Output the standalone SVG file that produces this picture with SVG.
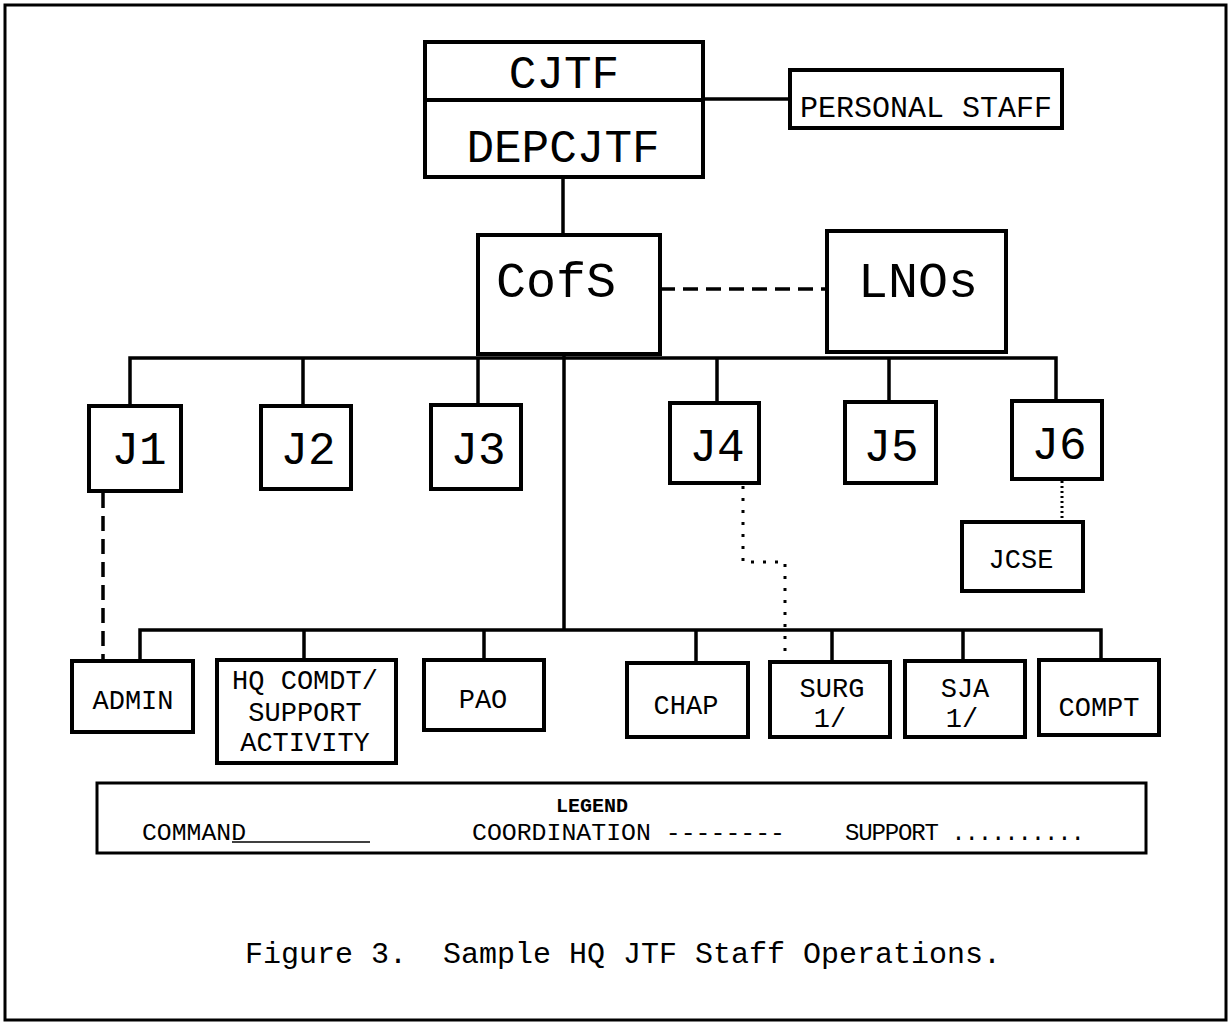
<svg xmlns="http://www.w3.org/2000/svg" width="1230" height="1024" viewBox="0 0 1230 1024">
<style>
.box{fill:#fff;stroke:#000;stroke-width:4}
.t{font-family:"Liberation Mono","DejaVu Sans Mono",monospace;fill:#000;text-anchor:middle}
.big{font-size:46px}
.mid{font-size:30px}
.sm{font-size:27px}
.leg{font-size:24px;text-anchor:start}
.c{fill:none;stroke:#000;stroke-width:3.5}
.dash{stroke-dasharray:15 8}
.dot{stroke-dasharray:3 9;stroke-width:3}
.dot2{stroke-dasharray:2 3;stroke-width:3}
</style>
<rect x="5" y="5" width="1221" height="1015" fill="#fff" stroke="#000" stroke-width="3"/>
<g id="connectors">
<line class="c" x1="703" y1="99" x2="790" y2="99"/>
<line class="c" x1="563" y1="177" x2="563" y2="235"/>
<line class="c dash" x1="660" y1="289" x2="827" y2="289"/>
<line class="c" x1="564" y1="354" x2="564" y2="630"/>
<polyline class="c" points="130,406 130,358 1056,358 1056,401"/>
<line class="c" x1="303" y1="358" x2="303" y2="406"/>
<line class="c" x1="478" y1="358" x2="478" y2="405"/>
<line class="c" x1="717" y1="358" x2="717" y2="403"/>
<line class="c" x1="889" y1="358" x2="889" y2="402"/>
<polyline class="c" points="140,661 140,630 1101,630 1101,660"/>
<line class="c" x1="304" y1="630" x2="304" y2="660"/>
<line class="c" x1="484" y1="630" x2="484" y2="660"/>
<line class="c" x1="696" y1="630" x2="696" y2="663"/>
<line class="c" x1="832" y1="630" x2="832" y2="662"/>
<line class="c" x1="963" y1="630" x2="963" y2="661"/>
<line class="c dash" x1="103" y1="493" x2="103" y2="661"/>
<polyline class="c dot" points="743,486 743,562 785,562 785,662"/>
<line class="c dot2" x1="1062" y1="481" x2="1062" y2="522"/>
</g>
<g id="cjtf"><rect class="box" x="425" y="42" width="278" height="58"/><text class="t big" x="564" y="88">CJTF</text></g>
<g id="depcjtf"><rect class="box" x="425" y="100" width="278" height="77"/><text class="t big" x="563" y="162">DEPCJTF</text></g>
<g id="personal-staff"><rect class="box" x="790" y="70" width="272" height="58"/><text class="t mid" x="926" y="117">PERSONAL STAFF</text></g>
<g id="cofs"><rect class="box" x="478" y="235" width="182" height="119"/><text class="t big" x="556" y="297" style="font-size:50px">CofS</text></g>
<g id="lnos"><rect class="box" x="827" y="231" width="179" height="121"/><text class="t big" x="918" y="297" style="font-size:50px">LNOs</text></g>
<g id="j1"><rect class="box" x="89" y="406" width="92" height="85"/><text class="t big" x="139" y="464">J1</text></g>
<g id="j2"><rect class="box" x="261" y="406" width="90" height="83"/><text class="t big" x="308" y="464">J2</text></g>
<g id="j3"><rect class="box" x="431" y="405" width="90" height="84"/><text class="t big" x="478" y="464">J3</text></g>
<g id="j4"><rect class="box" x="670" y="403" width="89" height="80"/><text class="t big" x="717" y="461">J4</text></g>
<g id="j5"><rect class="box" x="845" y="402" width="91" height="81"/><text class="t big" x="891" y="461">J5</text></g>
<g id="j6"><rect class="box" x="1012" y="401" width="90" height="78"/><text class="t big" x="1059" y="459">J6</text></g>
<g id="jcse"><rect class="box" x="962" y="522" width="121" height="69"/><text class="t sm" x="1021" y="568">JCSE</text></g>
<g id="admin"><rect class="box" x="72" y="661" width="121" height="71"/><text class="t sm" x="133" y="709">ADMIN</text></g>
<g id="hq-comdt"><rect class="box" x="217" y="660" width="179" height="103"/><text class="t sm" x="305" y="689">HQ COMDT/</text><text class="t sm" x="305" y="721">SUPPORT</text><text class="t sm" x="305" y="751">ACTIVITY</text></g>
<g id="pao"><rect class="box" x="424" y="660" width="120" height="70"/><text class="t sm" x="483" y="708">PAO</text></g>
<g id="chap"><rect class="box" x="627" y="663" width="121" height="74"/><text class="t sm" x="686" y="714">CHAP</text></g>
<g id="surg"><rect class="box" x="770" y="662" width="120" height="75"/><text class="t sm" x="832" y="697">SURG</text><text class="t sm" x="830" y="727">1/</text></g>
<g id="sja"><rect class="box" x="905" y="661" width="120" height="76"/><text class="t sm" x="965" y="697">SJA</text><text class="t sm" x="962" y="727">1/</text></g>
<g id="compt"><rect class="box" x="1039" y="660" width="120" height="75"/><text class="t sm" x="1099" y="716">COMPT</text></g>
<g id="legend">
<rect x="97" y="783" width="1049" height="70" fill="#fff" stroke="#000" stroke-width="3"/>
<text class="t" x="592" y="812" style="font-size:20px;font-weight:bold">LEGEND</text>
<text class="t leg" x="142" y="840" textLength="104" lengthAdjust="spacingAndGlyphs">COMMAND</text>
<line x1="232" y1="842" x2="370" y2="842" stroke="#000" stroke-width="1.5"/>
<text class="t leg" x="472" y="840" textLength="313" lengthAdjust="spacingAndGlyphs">COORDINATION --------</text>
<text class="t leg" x="845" y="840" textLength="240" lengthAdjust="spacing">SUPPORT ..........</text>
</g>
<text class="t" x="245" y="963" xml:space="preserve" style="font-size:30px;text-anchor:start;white-space:pre">Figure 3.  Sample HQ JTF Staff Operations.</text>
</svg>
